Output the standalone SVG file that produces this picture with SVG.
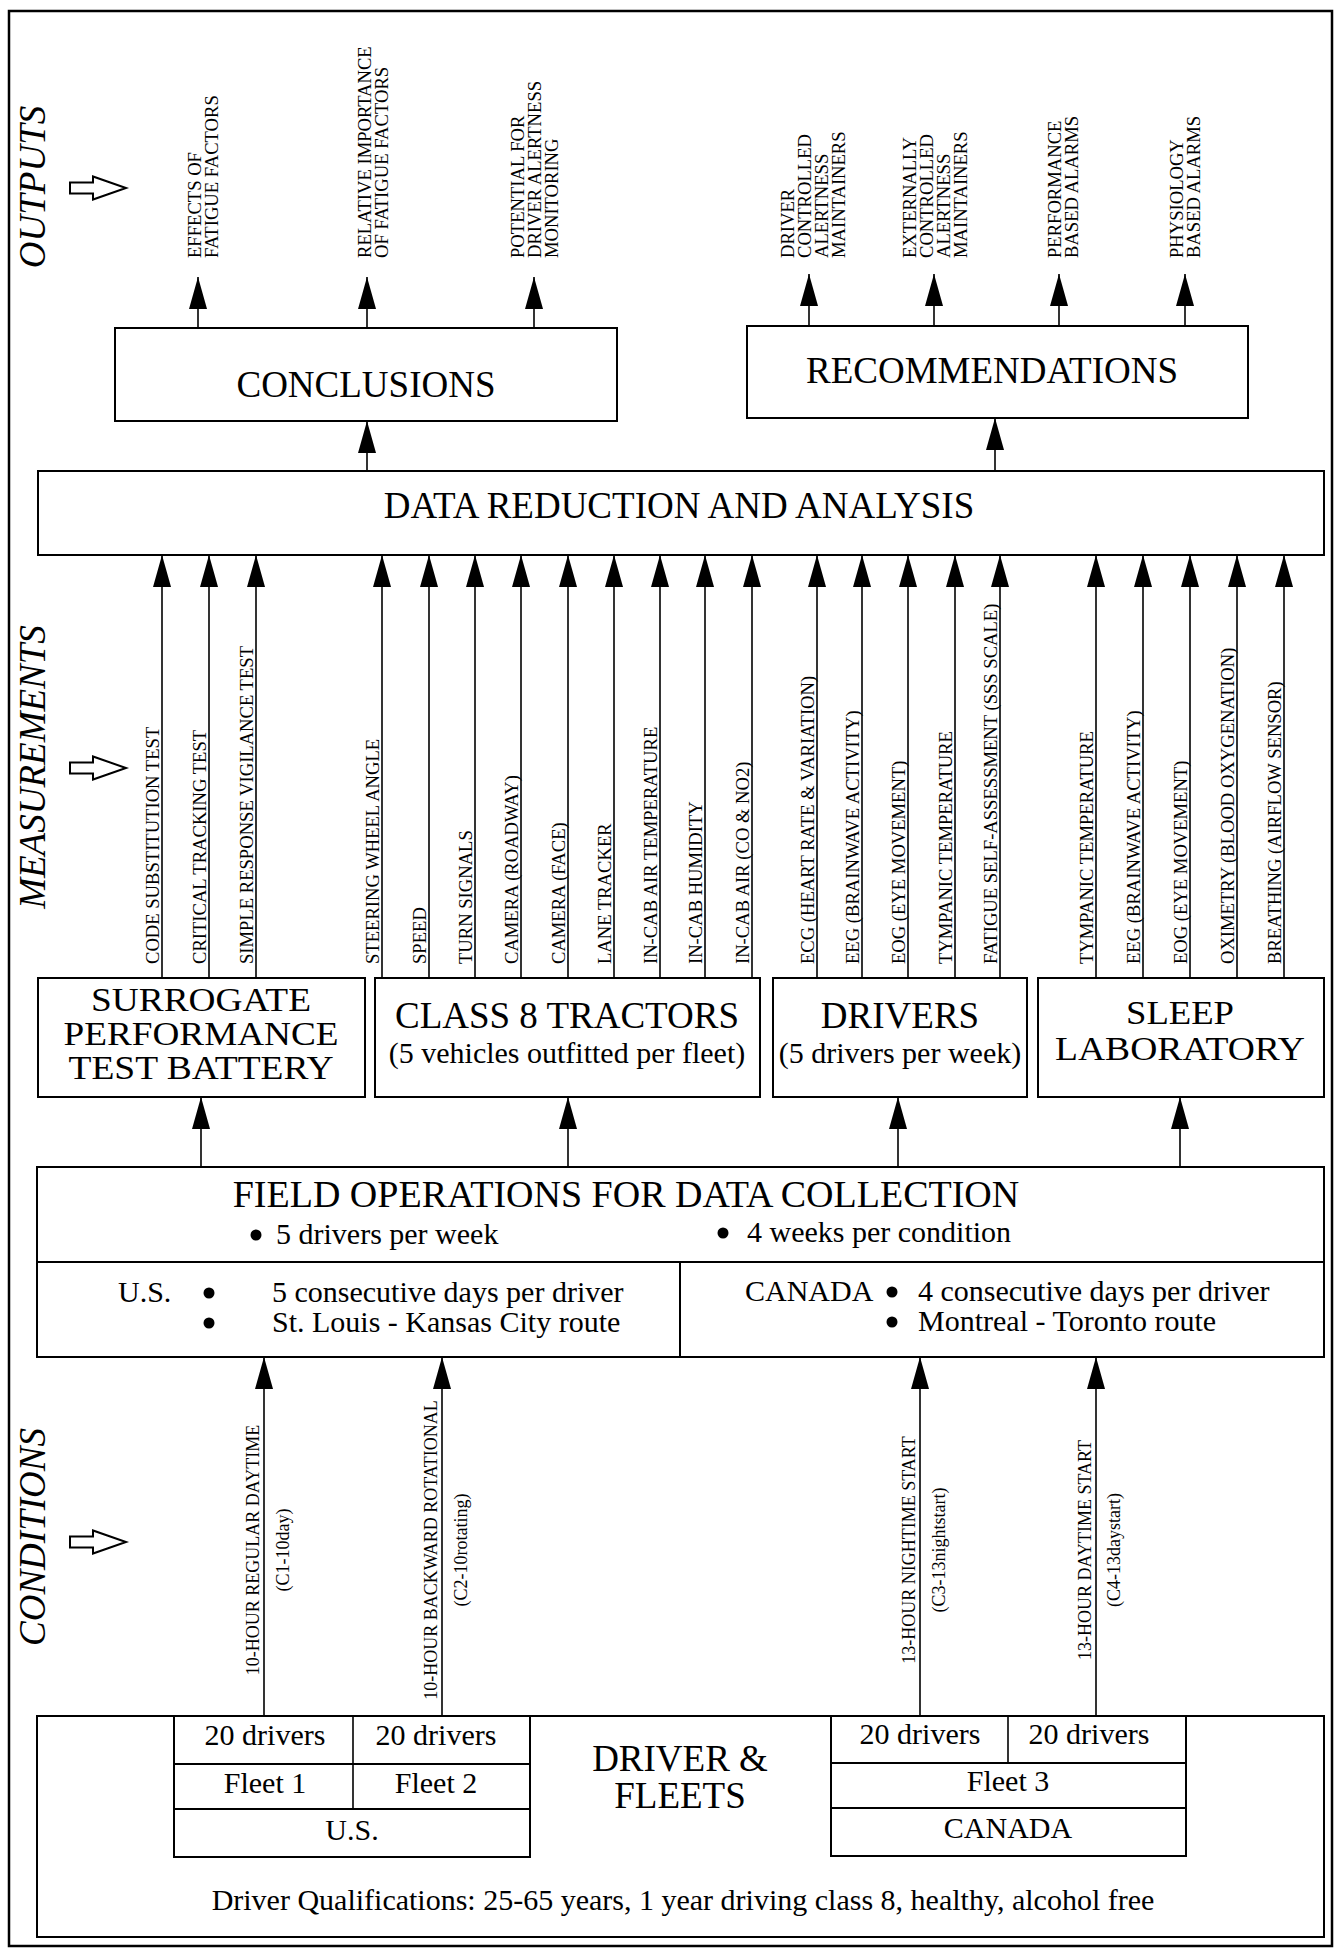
<svg xmlns="http://www.w3.org/2000/svg" width="1339" height="1950" viewBox="0 0 1339 1950">
<style>
.box{fill:none;stroke:#000;stroke-width:2}
.ln{fill:none;stroke:#000;stroke-width:1.6;marker-end:url(#ah)}
.t{font-family:"Liberation Serif","Times New Roman",serif;fill:#000}
.big{font-size:37px}
.b34{font-size:34px}
.mid{font-size:30px}
.sm{font-size:18.6px}
.cs{font-size:18px}
.dot{fill:#000}
.sec{font-family:"Liberation Serif","Times New Roman",serif;font-style:italic;font-size:37px;fill:#000}
.hol{fill:#fff;stroke:#000;stroke-width:2;stroke-linejoin:miter}
.c{text-anchor:middle}
</style>
<defs>
<marker id="ah" viewBox="0 0 32 18" refX="32" refY="9" markerWidth="32" markerHeight="18" markerUnits="userSpaceOnUse" orient="auto">
<path d="M0,0 L32,9 L0,18 Z" fill="#000"/>
</marker>
<path id="hollow" d="M0,-5.5 H23 V-11.5 L56,0 L23,11.5 V5.5 H0 Z"/>
</defs>
<rect x="0" y="0" width="1339" height="1950" fill="#fff"/>
<rect id="frame" x="9" y="11" width="1323" height="1935" fill="none" stroke="#000" stroke-width="2.5"/>

<g id="section-labels">
<text class="sec c" transform="translate(45,187) rotate(-90)">OUTPUTS</text>
<text class="sec c" transform="translate(45,767) rotate(-90)">MEASUREMENTS</text>
<text class="sec c" transform="translate(45,1537) rotate(-90)">CONDITIONS</text>
<use href="#hollow" class="hol" x="70" y="188"/>
<use href="#hollow" class="hol" x="70" y="768"/>
<use href="#hollow" class="hol" x="70" y="1542"/>
</g>

<g id="output-labels" class="t sm">
<text transform="translate(201,258) rotate(-90)"><tspan x="0" y="0">EFFECTS OF</tspan><tspan x="0" y="17">FATIGUE FACTORS</tspan></text>
<text transform="translate(371,258) rotate(-90)"><tspan x="0" y="0">RELATIVE IMPORTANCE</tspan><tspan x="0" y="17">OF FATIGUE FACTORS</tspan></text>
<text transform="translate(524,258) rotate(-90)"><tspan x="0" y="0">POTENTIAL FOR</tspan><tspan x="0" y="17">DRIVER ALERTNESS</tspan><tspan x="0" y="34">MONITORING</tspan></text>
<text transform="translate(794,258) rotate(-90)"><tspan x="0" y="0">DRIVER</tspan><tspan x="0" y="17">CONTROLLED</tspan><tspan x="0" y="34">ALERTNESS</tspan><tspan x="0" y="51">MAINTAINERS</tspan></text>
<text transform="translate(916,258) rotate(-90)"><tspan x="0" y="0">EXTERNALLY</tspan><tspan x="0" y="17">CONTROLLED</tspan><tspan x="0" y="34">ALERTNESS</tspan><tspan x="0" y="51">MAINTAINERS</tspan></text>
<text transform="translate(1061,258) rotate(-90)"><tspan x="0" y="0">PERFORMANCE</tspan><tspan x="0" y="17">BASED ALARMS</tspan></text>
<text transform="translate(1183,258) rotate(-90)"><tspan x="0" y="0">PHYSIOLOGY</tspan><tspan x="0" y="17">BASED ALARMS</tspan></text>
</g>

<g id="conclusions">
<rect class="box" x="115" y="328" width="502" height="93"/>
<text class="t big c" x="366" y="397">CONCLUSIONS</text>
</g>
<g id="recommendations">
<rect class="box" x="747" y="326" width="501" height="92"/>
<text class="t big c" x="992" y="383">RECOMMENDATIONS</text>
</g>
<g id="data-reduction">
<rect class="box" x="38" y="471" width="1286" height="84"/>
<text class="t big c" x="679" y="518">DATA REDUCTION AND ANALYSIS</text>
</g>

<g id="measurement-labels" class="t sm">
<text transform="translate(159,964) rotate(-90)">CODE SUBSTITUTION TEST</text>
<text transform="translate(206,964) rotate(-90)">CRITICAL TRACKING TEST</text>
<text transform="translate(253,964) rotate(-90)">SIMPLE RESPONSE VIGILANCE TEST</text>
<text transform="translate(379,964) rotate(-90)">STEERING WHEEL ANGLE</text>
<text transform="translate(426,964) rotate(-90)">SPEED</text>
<text transform="translate(472,964) rotate(-90)">TURN SIGNALS</text>
<text transform="translate(518,964) rotate(-90)">CAMERA (ROADWAY)</text>
<text transform="translate(565,964) rotate(-90)">CAMERA (FACE)</text>
<text transform="translate(611,964) rotate(-90)">LANE TRACKER</text>
<text transform="translate(657,964) rotate(-90)">IN-CAB AIR TEMPERATURE</text>
<text transform="translate(702,964) rotate(-90)">IN-CAB HUMIDITY</text>
<text transform="translate(749,964) rotate(-90)">IN-CAB AIR (CO &amp; NO2)</text>
<text transform="translate(814,964) rotate(-90)">ECG (HEART RATE &amp; VARIATION)</text>
<text transform="translate(859,964) rotate(-90)">EEG (BRAINWAVE ACTIVITY)</text>
<text transform="translate(905,964) rotate(-90)">EOG (EYE MOVEMENT)</text>
<text transform="translate(952,964) rotate(-90)">TYMPANIC TEMPERATURE</text>
<text transform="translate(997,964) rotate(-90)">FATIGUE SELF-ASSESSMENT (SSS SCALE)</text>
<text transform="translate(1093,964) rotate(-90)">TYMPANIC TEMPERATURE</text>
<text transform="translate(1140,964) rotate(-90)">EEG (BRAINWAVE ACTIVITY)</text>
<text transform="translate(1187,964) rotate(-90)">EOG (EYE MOVEMENT)</text>
<text transform="translate(1234,964) rotate(-90)">OXIMETRY (BLOOD OXYGENATION)</text>
<text transform="translate(1281,964) rotate(-90)">BREATHING (AIRFLOW SENSOR)</text>
</g>

<g id="surrogate">
<rect class="box" x="38" y="978" width="327" height="119"/>
<text class="t b34 c" x="201" y="1011" textLength="220" lengthAdjust="spacingAndGlyphs">SURROGATE</text>
<text class="t b34 c" x="201" y="1045" textLength="275" lengthAdjust="spacingAndGlyphs">PERFORMANCE</text>
<text class="t b34 c" x="201" y="1079" textLength="265" lengthAdjust="spacingAndGlyphs">TEST BATTERY</text>
</g>
<g id="tractors">
<rect class="box" x="375" y="978" width="385" height="119"/>
<text class="t c"><tspan class="big" x="567" y="1028">CLASS 8 TRACTORS</tspan><tspan class="mid" x="567" y="1063">(5 vehicles outfitted per fleet)</tspan></text>
</g>
<g id="drivers">
<rect class="box" x="773" y="978" width="254" height="119"/>
<text class="t c"><tspan class="big" x="900" y="1028">DRIVERS</tspan><tspan class="mid" x="900" y="1063">(5 drivers per week)</tspan></text>
</g>
<g id="sleep-lab">
<rect class="box" x="1038" y="978" width="286" height="119"/>
<text class="t b34 c" x="1180" y="1024" textLength="108" lengthAdjust="spacingAndGlyphs">SLEEP</text>
<text class="t b34 c" x="1180" y="1060" textLength="250" lengthAdjust="spacingAndGlyphs">LABORATORY</text>
</g>

<g id="field-operations">
<rect class="box" x="37" y="1167" width="1287" height="190"/>
<line x1="37" y1="1262" x2="1324" y2="1262" stroke="#000" stroke-width="2"/>
<line x1="680" y1="1262" x2="680" y2="1357" stroke="#000" stroke-width="2"/>
<text class="t big c" style="font-size:38px" x="626" y="1207">FIELD OPERATIONS FOR DATA COLLECTION</text>
<circle class="dot" cx="256" cy="1235" r="5.5"/>
<text class="t mid" x="276" y="1244">5 drivers per week</text>
<circle class="dot" cx="723" cy="1233" r="5.5"/>
<text class="t mid" x="747" y="1242">4 weeks per condition</text>
<text class="t mid" x="118" y="1302">U.S.</text>
<circle class="dot" cx="209" cy="1293" r="5.5"/>
<circle class="dot" cx="209" cy="1323" r="5.5"/>
<text class="t mid" x="272" y="1302">5 consecutive days per driver</text>
<text class="t mid" x="272" y="1332">St. Louis - Kansas City route</text>
<text class="t mid" x="745" y="1301">CANADA</text>
<circle class="dot" cx="892" cy="1292" r="5.5"/>
<circle class="dot" cx="892" cy="1322" r="5.5"/>
<text class="t mid" x="918" y="1301">4 consecutive days per driver</text>
<text class="t mid" x="918" y="1331">Montreal - Toronto route</text>
</g>

<g id="condition-labels" class="t cs c">
<text transform="translate(259,1550) rotate(-90)">10-HOUR REGULAR DAYTIME</text>
<text transform="translate(289,1550) rotate(-90)">(C1-10day)</text>
<text transform="translate(437,1550) rotate(-90)">10-HOUR BACKWARD ROTATIONAL</text>
<text transform="translate(467,1550) rotate(-90)">(C2-10rotating)</text>
<text transform="translate(915,1550) rotate(-90)">13-HOUR NIGHTIME START</text>
<text transform="translate(945,1550) rotate(-90)">(C3-13nightstart)</text>
<text transform="translate(1091,1550) rotate(-90)">13-HOUR DAYTIME START</text>
<text transform="translate(1120,1550) rotate(-90)">(C4-13daystart)</text>
</g>

<g id="driver-fleets">
<rect class="box" x="37" y="1716" width="1287" height="221"/>
<text class="t big c"><tspan x="680" y="1771">DRIVER &amp;</tspan><tspan x="680" y="1808">FLEETS</tspan></text>
<text class="t mid c" x="683" y="1910">Driver Qualifications: 25-65 years, 1 year driving class 8, healthy, alcohol free</text>
</g>
<g id="us-fleets">
<rect class="box" x="174" y="1716" width="356" height="141"/>
<line x1="174" y1="1764" x2="530" y2="1764" stroke="#000" stroke-width="2"/>
<line x1="174" y1="1809" x2="530" y2="1809" stroke="#000" stroke-width="2"/>
<line x1="353" y1="1716" x2="353" y2="1809" stroke="#000" stroke-width="1.6"/>
<text class="t mid c" x="265" y="1745">20 drivers</text>
<text class="t mid c" x="436" y="1745">20 drivers</text>
<text class="t mid c" x="265" y="1793">Fleet 1</text>
<text class="t mid c" x="436" y="1793">Fleet 2</text>
<text class="t mid c" x="352" y="1840">U.S.</text>
</g>
<g id="canada-fleets">
<rect class="box" x="831" y="1716" width="355" height="140"/>
<line x1="831" y1="1763" x2="1186" y2="1763" stroke="#000" stroke-width="2"/>
<line x1="831" y1="1808" x2="1186" y2="1808" stroke="#000" stroke-width="2"/>
<line x1="1008" y1="1716" x2="1008" y2="1763" stroke="#000" stroke-width="1.6"/>
<text class="t mid c" x="920" y="1744">20 drivers</text>
<text class="t mid c" x="1089" y="1744">20 drivers</text>
<text class="t mid c" x="1008" y="1791">Fleet 3</text>
<text class="t mid c" x="1008" y="1838">CANADA</text>
</g>

<g id="connectors">
<line class="ln" x1="198" y1="328" x2="198" y2="277"/>
<line class="ln" x1="367" y1="328" x2="367" y2="277"/>
<line class="ln" x1="534" y1="328" x2="534" y2="277"/>
<line class="ln" x1="809" y1="326" x2="809" y2="274"/>
<line class="ln" x1="934" y1="326" x2="934" y2="274"/>
<line class="ln" x1="1059" y1="326" x2="1059" y2="274"/>
<line class="ln" x1="1185" y1="326" x2="1185" y2="274"/>
<line class="ln" x1="367" y1="471" x2="367" y2="421"/>
<line class="ln" x1="995" y1="471" x2="995" y2="418"/>
<line class="ln" x1="162" y1="978" x2="162" y2="555"/>
<line class="ln" x1="209" y1="978" x2="209" y2="555"/>
<line class="ln" x1="256" y1="978" x2="256" y2="555"/>
<line class="ln" x1="382" y1="978" x2="382" y2="555"/>
<line class="ln" x1="429" y1="978" x2="429" y2="555"/>
<line class="ln" x1="475" y1="978" x2="475" y2="555"/>
<line class="ln" x1="521" y1="978" x2="521" y2="555"/>
<line class="ln" x1="568" y1="978" x2="568" y2="555"/>
<line class="ln" x1="614" y1="978" x2="614" y2="555"/>
<line class="ln" x1="660" y1="978" x2="660" y2="555"/>
<line class="ln" x1="705" y1="978" x2="705" y2="555"/>
<line class="ln" x1="752" y1="978" x2="752" y2="555"/>
<line class="ln" x1="817" y1="978" x2="817" y2="555"/>
<line class="ln" x1="862" y1="978" x2="862" y2="555"/>
<line class="ln" x1="908" y1="978" x2="908" y2="555"/>
<line class="ln" x1="955" y1="978" x2="955" y2="555"/>
<line class="ln" x1="1000" y1="978" x2="1000" y2="555"/>
<line class="ln" x1="1096" y1="978" x2="1096" y2="555"/>
<line class="ln" x1="1143" y1="978" x2="1143" y2="555"/>
<line class="ln" x1="1190" y1="978" x2="1190" y2="555"/>
<line class="ln" x1="1237" y1="978" x2="1237" y2="555"/>
<line class="ln" x1="1284" y1="978" x2="1284" y2="555"/>
<line class="ln" x1="201" y1="1167" x2="201" y2="1097"/>
<line class="ln" x1="568" y1="1167" x2="568" y2="1097"/>
<line class="ln" x1="898" y1="1167" x2="898" y2="1097"/>
<line class="ln" x1="1180" y1="1167" x2="1180" y2="1097"/>
<line class="ln" x1="264" y1="1716" x2="264" y2="1357"/>
<line class="ln" x1="442" y1="1716" x2="442" y2="1357"/>
<line class="ln" x1="920" y1="1716" x2="920" y2="1357"/>
<line class="ln" x1="1096" y1="1716" x2="1096" y2="1357"/>
</g>
</svg>
